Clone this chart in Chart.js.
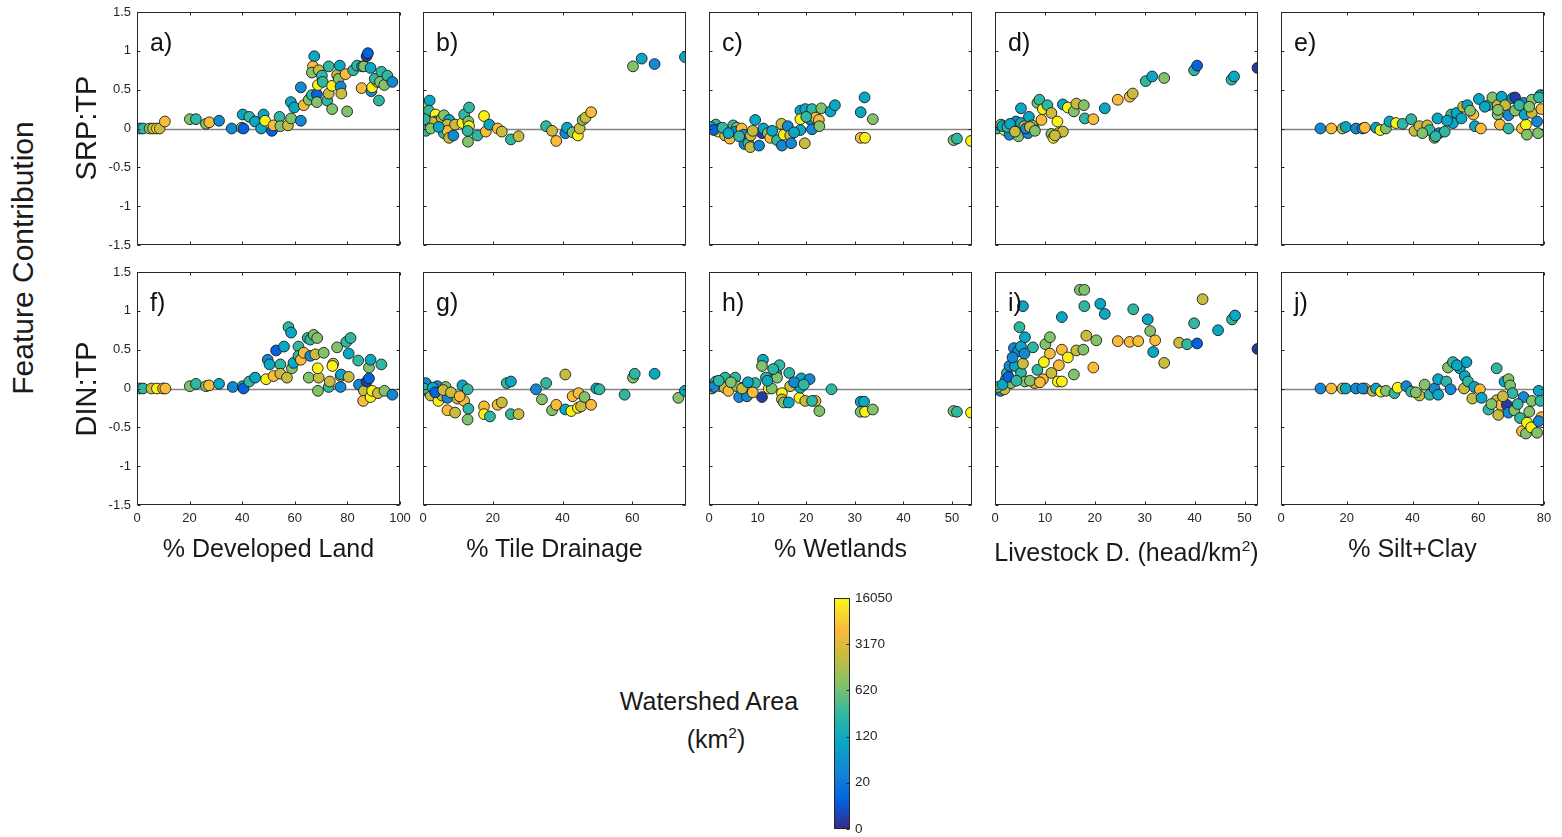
<!DOCTYPE html>
<html>
<head>
<meta charset="utf-8">
<script src="https://cdn.jsdelivr.net/npm/chart.js@4.4.1/dist/chart.umd.min.js"></script>
<style>
  body { margin: 0; background: #fff; }
  #fig { position: relative; width: 1562px; height: 837px; overflow: hidden; font-family: 'Liberation Sans', Arial, sans-serif; }
  #fig canvas { position: absolute; }
  .lbl { position: absolute; white-space: nowrap; color: #1a1a1a; line-height: 1; }
  .lbl sup { font-size: 0.62em; vertical-align: 0.6em; line-height: 0; }
</style>
</head>
<body>
<div id="fig"></div>
<script>
// watershed area (km2) per point, x = feature value, y = feature contribution
const aX = [1.0,2.3,4.8,6.1,7.6,8.6,10.6,20.1,22.4,26.2,27.5,31.2,36.0,39.8,40.5,40.2,42.7,44.9,47.2,48.1,48.7,51.3,51.9,54.2,54.5,57.4,58.6,58.5,59.8,62.3,62.3,63.4,65.3,66.5,68.4,68.4,67.4,66.9,66.5,69.1,70.3,72.9,68.8,70.6,72.3,72.9,74.2,74.2,76.1,77.1,76.7,77.4,77.7,79.3,79.9,82.2,83.7,85.6,86.3,87.3,87.8,88.8,85.4,89.1,89.4,91.4,90.4,92.0,92.9,92.4,94.0,95.2,97.1]
const aY = [0,0,0,0,0,0,0.09,0.12,0.12,0.06,0.08,0.10,0,0.01,0,0.18,0.15,0.09,0,0.18,0.10,-0.03,0.04,0.15,0.03,0.04,0.13,0.34,0.27,0.10,0.53,0.30,0.37,0.43,0.44,0.34,0.93,0.80,0.72,0.75,0.68,0.80,0.56,0.60,0.36,0.45,0.25,0.55,0.69,0.81,0.64,0.54,0.45,0.70,0.22,0.75,0.81,0.80,0.80,0.93,0.97,0.78,0.52,0.48,0.53,0.60,0.64,0.36,0.73,0.60,0.56,0.68,0.60]
const aArea = [260,260,750,2100,14000,2100,5500,750,260,750,5500,35,35,750,12,100,260,100,100,100,14000,12,5500,260,750,2100,750,100,100,35,35,5500,750,260,12,750,100,5500,750,2100,260,260,14000,260,260,2100,750,14000,2100,100,750,35,2100,5500,750,260,260,100,750,4,12,100,5500,35,14000,5500,260,260,260,750,750,260,35]

const bX = [0.8,1.9,0.3,1.7,3.6,3.6,2.7,0.8,5.4,6.0,7.5,7.0,6.0,7.0,7.5,8.7,9.2,11.3,11.8,13.2,13.0,13.2,12.8,12.9,15.6,17.5,18.0,19.0,21.4,22.6,25.2,27.4,35.3,37.0,38.2,40.8,41.3,42.9,44.4,44.9,45.8,46.6,48.2,60.2,62.7,66.4,75.1,0.5,2.2,4.5]
const bY = [0.28,0.36,0.18,0.23,0.18,0.09,0.08,-0.03,0.13,0.17,0.11,0.05,-0.06,-0.03,-0.12,-0.09,0.05,0.07,0.18,0.27,0.09,0.03,-0.03,-0.17,-0.09,0.16,-0.04,0.05,0.0,-0.04,-0.14,-0.10,0.03,-0.03,-0.16,-0.06,0.01,-0.05,-0.09,0.0,0.11,0.14,0.21,0.80,0.90,0.83,0.92,0.12,0.0,0.02]
const bArea = [5500,100,750,260,14000,100,2100,260,2100,750,100,2100,260,5500,2100,35,2100,14000,260,260,750,14000,260,750,260,14000,5500,100,5500,2100,260,2100,260,2100,5500,35,100,750,14000,2100,750,2100,5500,750,100,35,100,260,750,100]

const cX = [0.6,1.4,2.3,1.9,3.3,4.3,5.0,5.7,5.4,6.7,7.1,7.3,8.1,8.5,8.6,9.5,10.3,10.9,11.2,12.1,12.6,14.0,14.9,15.0,15.4,16.2,16.7,16.9,18.8,18.8,18.8,19.7,19.8,20.9,21.2,21.2,21.9,22.6,22.7,23.1,25.0,25.9,31.2,32.0,33.7,31.2,32.1,50.3,51.0,53.9,0.3,1.0,2.8,4.0,6.2,9.0,13.0,17.5,20.0]
const cY = [0.01,0.05,0.0,-0.04,-0.09,-0.13,0.04,0.01,-0.04,0.0,-0.08,-0.20,-0.19,-0.24,-0.09,0.11,-0.22,-0.06,0.0,-0.06,-0.12,-0.15,0.06,-0.22,-0.08,0.03,-0.09,-0.19,0.23,0.12,-0.02,-0.19,0.25,0.11,-0.01,0.25,0.14,0.11,0.03,0.26,0.22,0.30,0.21,0.40,0.12,-0.12,-0.12,-0.15,-0.13,-0.16,0.02,-0.02,0.01,-0.06,-0.10,-0.03,-0.03,-0.05,0.15]
const cArea = [750,260,35,14000,2100,5500,260,750,35,5500,35,35,260,2100,2100,100,35,4,100,750,5500,260,2100,35,14000,35,2100,35,100,14000,100,2100,100,35,35,260,5500,5500,750,750,100,100,100,100,750,5500,14000,750,260,14000,100,12,260,100,260,2100,100,100,260]

const dX = [0.5,1.2,1.9,2.9,3.6,4.2,4.7,5.2,5.2,5.9,6.8,6.6,7.8,7.4,8.5,8.9,9.3,9.6,10.5,11.3,11.3,11.7,12.5,12.7,13.6,13.6,14.6,15.8,16.3,17.8,18.0,19.7,22.0,24.6,27.0,27.6,30.2,31.5,33.9,39.9,40.5,47.4,47.9,52.6,1.5,2.5,3.0,4.0,6.2,7.0,8.0,12.0]
const dY = [0.0,0.05,-0.02,-0.08,0.0,0.09,-0.10,0.26,0.07,0.03,0.15,-0.06,0.0,0.04,0.33,0.37,0.11,0.25,0.30,0.20,-0.07,-0.12,0.09,-0.06,-0.04,0.31,0.27,0.22,0.32,0.30,0.13,0.12,0.26,0.37,0.41,0.45,0.61,0.67,0.65,0.75,0.81,0.63,0.67,0.78,0.03,0.02,0.06,-0.04,0.0,0.02,-0.03,-0.09]
const dArea = [260,750,14000,35,260,35,750,100,100,2100,100,35,260,750,750,260,5500,14000,260,2100,750,14000,14000,5500,2100,100,14000,750,2100,750,260,5500,100,5500,5500,2100,260,100,750,260,12,260,100,4,100,260,100,2100,35,2100,750,2100]

const eX = [12.0,15.3,18.7,19.7,22.8,24.8,25.5,28.9,30.2,31.9,33.0,35.0,37.0,39.6,40.6,42.1,44.5,45.2,46.7,47.6,48.1,49.8,51.8,52.3,53.4,54.9,55.4,56.7,58.5,59.0,60.2,60.8,63.1,64.3,65.9,67.1,68.2,65.9,66.6,69.2,69.2,70.4,71.2,71.2,73.8,73.3,74.5,74.1,74.8,76.3,76.3,77.9,78.2,78.9,79.2,43.0,47.0,50.5,57.5,62.0,66.0,72.5,75.5,78.5]
const eY = [0,0,0,0.02,0,0,0.01,0.01,-0.02,0,0.09,0.07,0.06,0.12,-0.03,0.03,0.04,-0.02,-0.12,0.13,-0.06,-0.04,0.18,0.07,0.20,0.13,0.28,0.30,0.18,0.03,0.38,0.0,0.30,0.40,0.30,0.41,0.30,0.18,0.05,0.17,0.0,0.39,0.23,0.40,0.33,0.0,0.05,0.18,-0.08,0.37,0.20,0.09,-0.06,0.43,0.25,-0.06,-0.10,0.10,0.23,0.28,0.24,0.30,0.28,0.40]
const eArea = [35,5500,2100,100,35,35,5500,100,14000,750,100,14000,260,260,2100,2100,2100,260,750,100,35,260,260,100,100,100,2100,100,5500,100,100,5500,260,750,2100,100,2100,750,5500,35,260,100,750,4,35,5500,14000,100,750,750,2100,35,750,100,5500,750,260,100,750,100,750,260,750,260]

const fX = [1.0,2.3,5.5,7.6,9.9,10.8,20.1,22.4,26.2,27.4,31.2,36.4,40.2,40.5,42.7,44.9,49.1,49.7,50.4,51.9,52.9,54.5,54.5,55.9,57.0,58.9,57.6,58.6,59.5,61.4,61.4,62.3,63.4,64.9,65.9,67.2,68.5,65.3,65.9,67.8,69.1,68.7,68.8,71.0,72.9,73.3,74.6,74.3,76.1,77.4,77.4,77.6,79.6,81.2,80.5,80.5,84.1,84.4,86.3,87.3,88.2,88.2,88.8,86.0,88.8,89.4,91.6,92.9,94.1,97.1]
const fY = [0,0,0,0,0,0,0.03,0.06,0.03,0.04,0.06,0.02,0.03,0,0.09,0.14,0.12,0.37,0.31,0.16,0.49,0.31,0.19,0.54,0.14,0.26,0.79,0.72,0.33,0.54,0.42,0.37,0.46,0.65,0.63,0.69,0.65,0.14,0.42,0.44,0.14,0.26,-0.03,0.46,0.02,0.09,0.32,0.29,0.53,0.02,0.16,0.18,0.60,0.65,0.45,0.15,0.36,0.05,-0.03,0.09,0.13,0.27,0.37,-0.16,-0.11,-0.03,-0.06,0.31,-0.03,-0.08]
const fArea = [260,260,2100,14000,5500,5500,750,260,750,5500,100,35,100,12,260,100,14000,35,100,5500,12,260,2100,100,2100,750,260,100,100,260,260,5500,5500,260,260,750,750,750,35,2100,2100,14000,750,750,260,2100,2100,14000,750,35,5500,100,260,260,100,2100,260,35,2100,4,12,750,100,5500,14000,14000,2100,260,750,35]

const gX = [0.8,1.2,2.2,4.1,4.4,5.4,6.5,7.0,7.0,9.2,9.9,11.3,11.8,12.8,13.0,12.8,17.5,17.5,19.2,21.4,22.6,24.0,25.2,25.2,27.4,32.4,34.1,35.3,37.0,38.2,40.8,40.8,42.5,42.9,44.6,44.4,45.3,46.3,48.2,49.7,50.6,57.8,60.2,60.7,66.4,73.2,75.1,0.3,2.8,3.5,5.8,8.0,10.5]
const gY = [0.07,-0.03,-0.09,0.03,-0.16,-0.09,0.02,-0.12,-0.28,-0.31,-0.13,0.04,-0.16,-0.01,-0.26,-0.40,-0.23,-0.33,-0.36,-0.21,-0.18,0.07,0.09,-0.33,-0.33,-0.01,-0.14,0.07,-0.28,-0.21,0.18,-0.27,-0.29,-0.10,-0.06,-0.25,-0.23,-0.11,-0.21,0.0,-0.01,-0.08,0.14,0.19,0.19,-0.12,-0.03,0.0,0.01,-0.05,-0.02,-0.05,-0.10]
const gArea = [35,260,2100,35,14000,2100,750,35,5500,2100,2100,100,5500,260,260,750,5500,14000,260,5500,2100,260,100,260,2100,35,750,260,750,5500,2100,100,14000,5500,5500,14000,2100,750,5500,100,260,260,750,260,100,750,100,260,100,12,2100,2100,5500]

const hX = [0.6,1.4,2.3,3.3,3.2,4.0,5.4,5.7,6.2,7.8,7.3,8.7,9.5,10.9,11.1,10.9,11.7,12.3,12.9,13.8,14.0,14.5,15.0,15.0,15.4,16.4,16.5,16.7,18.6,19.0,18.8,20.7,19.8,21.9,21.2,22.7,25.2,31.2,31.9,31.2,32.1,33.7,50.3,51.0,53.9,1.0,2.0,4.5,6.8,8.0,9.0,12.0,13.2,17.5,19.5]
const hY = [0,0.09,0.03,0.14,0.01,-0.03,0.14,0.03,-0.11,-0.10,0.02,0.03,0.07,-0.11,0.37,0.29,0.14,0,0,0.20,0.14,0.30,-0.06,-0.14,-0.18,-0.18,0.20,0.03,-0.12,0.13,0.01,0.12,-0.16,-0.16,-0.16,-0.29,-0.01,-0.17,-0.17,-0.30,-0.30,-0.27,-0.29,-0.30,-0.31,0.02,0.10,0.08,0.0,0.08,-0.05,0.10,0.25,0.08,0.05]
const hArea = [750,260,2100,260,2100,5500,260,750,35,35,750,5500,260,4,100,750,260,14000,750,100,750,260,14000,2100,750,100,260,2100,14000,100,100,35,2100,5500,260,750,260,100,100,750,14000,750,750,260,14000,35,260,750,2100,100,5500,100,260,35,260]

const iX = [0.2,1.1,1.9,2.2,2.4,2.9,3.2,3.8,4.0,4.6,4.9,5.2,5.2,5.6,5.6,6.0,5.9,6.0,7.6,7.9,8.5,9.6,9.8,10.1,11.0,11.0,11.3,12.6,13.4,12.8,13.4,13.4,14.6,15.8,16.3,17.7,17.0,17.9,17.9,18.3,19.7,20.3,21.1,22.0,24.6,27.0,28.7,27.7,30.6,31.1,32.1,31.7,33.9,36.9,38.5,40.5,39.9,41.6,44.7,47.5,48.1,52.6,0.5,1.5,2.7,3.5,4.3,7.0,9.0]
const iY = [-0.01,-0.03,-0.01,0.12,0.20,0.29,0.07,0.52,0.29,0.48,0.79,0.54,0.20,0.32,1.06,0.66,0.45,0.09,0.53,0.07,0.24,0.12,0.34,0.57,0.66,0.45,0.20,0.09,0.09,0.30,0.50,0.92,0.40,0.18,0.49,0.50,1.27,1.27,1.06,0.68,0.27,0.62,1.09,0.96,0.61,0.60,0.61,1.02,0.89,0.74,0.62,0.47,0.33,0.59,0.57,0.58,0.84,1.15,0.75,0.89,0.94,0.51,0.02,0.05,0.15,0.40,0.10,0.10,0.08]
const iArea = [260,35,2100,100,260,35,750,35,100,35,260,100,260,2100,100,100,35,750,260,2100,260,5500,14000,750,750,5500,2100,14000,14000,5500,5500,100,14000,750,2100,750,750,750,260,2100,5500,750,100,100,5500,5500,5500,260,100,750,5500,100,2100,2100,260,12,260,2100,100,260,100,4,750,100,12,35,260,750,5500]

const jX = [12.0,15.3,18.7,19.7,22.8,25.5,27.9,28.9,30.4,31.9,34.5,35.5,38.1,39.6,42.1,43.7,45.2,46.7,47.8,47.8,50.3,50.8,51.6,52.3,54.4,55.7,56.4,55.9,56.9,58.2,58.8,60.5,61.0,63.1,65.6,65.6,66.1,66.9,68.0,68.7,69.2,69.2,69.7,70.4,71.0,72.7,73.8,73.3,74.5,74.8,76.1,76.3,77.9,78.4,78.9,79.2,78.4,24.8,41.0,53.5,64.0,67.5,72.0,75.5]
const jY = [0,0,0,0,0,0,-0.03,0,-0.04,-0.03,-0.06,0.01,0.03,-0.04,-0.09,0.05,-0.08,0,0.12,-0.08,0.09,0.27,-0.01,0.34,0.26,0,0.34,0.16,0.09,-0.13,0.02,-0.01,-0.12,-0.27,0.26,-0.15,-0.34,-0.21,0.09,-0.21,-0.31,0.12,0.04,-0.06,-0.28,-0.38,-0.11,-0.55,-0.58,-0.44,-0.50,-0.16,-0.57,-0.03,-0.16,-0.37,-0.42,0,-0.05,0.30,-0.20,-0.10,-0.20,-0.30]
const jArea = [35,5500,2100,100,35,5500,2100,100,14000,750,260,14000,35,260,2100,750,260,35,100,100,260,750,35,260,100,2100,100,100,260,2100,100,5500,100,260,260,2100,2100,5500,100,4,35,750,750,260,750,260,35,5500,750,14000,14000,750,750,100,260,5500,35,35,750,100,750,2100,260,750]

const yTicks = [-1.5, 1.5, 0.5]
const areaTicks = [0, 20, 120, 620, 3170, 16050]
const xTitles = ['% Developed Land', '% Tile Drainage', '% Wetlands', 'Livestock D. (head/km<sup>2</sup>)', '% Silt+Clay']

// parula-like colour ramp
const ramp = [
  [0, '#352a87'], [0.125, '#0363e1'], [0.25, '#1485d4'], [0.375, '#06a7c6'],
  [0.5, '#32b8a0'], [0.625, '#82c26a'], [0.75, '#c9bb3e'], [0.86, '#f9b93c'],
  [0.95, '#f6e02a'], [1, '#f9fb0e']
]

const hexRgb = h => [1, 3, 5].map(i => parseInt(h.slice(i, i + 2), 16))

function rampColor(t) {
  t = Math.min(1, Math.max(0, t))
  for (let i = 1; i < ramp.length; i++) {
    if (t <= ramp[i][0]) {
      const [t0, c0] = ramp[i - 1]
      const [t1, c1] = ramp[i]
      const f = (t - t0) / (t1 - t0)
      const a = hexRgb(c0), b = hexRgb(c1)
      return `rgb(${a.map((v, k) => Math.round(v + (b[k] - v) * f)).join(',')})`
    }
  }
  return ramp[ramp.length - 1][1]
}

// colour bar ticks are evenly spaced, log between them
function areaToT(a) {
  for (let i = 1; i < areaTicks.length; i++) {
    if (a <= areaTicks[i]) {
      const lo = areaTicks[i - 1], hi = areaTicks[i]
      const f = lo === 0 ? a / hi : Math.log(a / lo) / Math.log(hi / lo)
      return (i - 1 + f) / (areaTicks.length - 1)
    }
  }
  return 1
}

const FONT = "'Liberation Sans', Arial, sans-serif"
const INK = '#262626'
Chart.defaults.font.family = FONT

const PAD_L = 60, PAD_R = 20, PAD_T = 20, PAD_B = 40
const PANEL_W = 263, PANEL_H = 233
const colLeft = [137, 423, 709, 995, 1281]
const rowTop = [12, 272]
const fig = document.getElementById('fig')

const panels = [
  { letter: 'a)', col: 0, row: 0, x: aX, y: aY, area: aArea, xMax: 100, xStep: 20 },
  { letter: 'b)', col: 1, row: 0, x: bX, y: bY, area: bArea, xMax: 75.4, xStep: 20 },
  { letter: 'c)', col: 2, row: 0, x: cX, y: cY, area: cArea, xMax: 54.1, xStep: 10 },
  { letter: 'd)', col: 3, row: 0, x: dX, y: dY, area: dArea, xMax: 52.7, xStep: 10 },
  { letter: 'e)', col: 4, row: 0, x: eX, y: eY, area: eArea, xMax: 80, xStep: 20 },
  { letter: 'f)', col: 0, row: 1, x: fX, y: fY, area: fArea, xMax: 100, xStep: 20 },
  { letter: 'g)', col: 1, row: 1, x: gX, y: gY, area: gArea, xMax: 75.4, xStep: 20 },
  { letter: 'h)', col: 2, row: 1, x: hX, y: hY, area: hArea, xMax: 54.1, xStep: 10 },
  { letter: 'i)', col: 3, row: 1, x: iX, y: iY, area: iArea, xMax: 52.7, xStep: 10 },
  { letter: 'j)', col: 4, row: 1, x: jX, y: jY, area: jArea, xMax: 80, xStep: 20 }
]

// zero line under the points, box + inward ticks + panel letter on top
const framePlugin = {
  id: 'frame',
  beforeDatasetsDraw(chart) {
    const { ctx, chartArea: a, scales: { y } } = chart
    const y0 = Math.round(y.getPixelForValue(0)) + 0.5
    ctx.save()
    ctx.strokeStyle = '#858585'
    ctx.lineWidth = 1.4
    ctx.beginPath()
    ctx.moveTo(a.left, y0)
    ctx.lineTo(a.right, y0)
    ctx.stroke()
    ctx.restore()
  },
  afterDraw(chart, args, opts) {
    const { ctx, chartArea: a, scales: { x, y } } = chart
    const l = Math.round(a.left) + 0.5, r = Math.round(a.right) - 0.5
    const t = Math.round(a.top) + 0.5, b = Math.round(a.bottom) - 0.5
    ctx.save()
    ctx.strokeStyle = INK
    ctx.lineWidth = 1
    ctx.strokeRect(l, t, r - l, b - t)
    ctx.beginPath()
    x.ticks.forEach(tk => {
      const px = Math.round(x.getPixelForValue(tk.value)) + 0.5
      ctx.moveTo(px, b); ctx.lineTo(px, b - 3)
      ctx.moveTo(px, t); ctx.lineTo(px, t + 3)
    })
    y.ticks.forEach(tk => {
      const py = Math.round(y.getPixelForValue(tk.value)) + 0.5
      ctx.moveTo(l, py); ctx.lineTo(l + 3, py)
      ctx.moveTo(r, py); ctx.lineTo(r - 3, py)
    })
    ctx.stroke()
    ctx.fillStyle = '#111'
    ctx.font = `25px ${FONT}`
    ctx.textBaseline = 'alphabetic'
    ctx.fillText(opts.letter, a.left + 13, a.top + 39)
    ctx.restore()
  }
}

function makePanel(p) {
  const canvas = document.createElement('canvas')
  canvas.width = PAD_L + PANEL_W + PAD_R
  canvas.height = PAD_T + PANEL_H + PAD_B
  canvas.style.left = (colLeft[p.col] - PAD_L) + 'px'
  canvas.style.top = (rowTop[p.row] - PAD_T) + 'px'
  fig.appendChild(canvas)

  const tickFont = { size: 13, family: FONT }
  new Chart(canvas, {
    type: 'scatter',
    data: {
      datasets: [{
        data: p.x.map((v, i) => ({ x: v, y: p.y[i] })),
        backgroundColor: p.area.map(a => rampColor(areaToT(a))),
        borderColor: '#1c1c1c',
        borderWidth: 0.9,
        pointRadius: 5.4,
        pointHoverRadius: 5.4,
        clip: 0
      }]
    },
    options: {
      responsive: false,
      animation: false,
      events: [],
      layout: { padding: { top: PAD_T, right: PAD_R, left: 0, bottom: 0 } },
      plugins: {
        legend: { display: false },
        tooltip: { enabled: false },
        frame: { letter: p.letter }
      },
      scales: {
        x: {
          type: 'linear',
          min: 0,
          max: p.xMax,
          afterFit: s => { s.height = PAD_B },
          grid: { display: false, drawTicks: false },
          border: { display: false },
          ticks: {
            display: p.row === 1,
            stepSize: p.xStep,
            includeBounds: false,
            autoSkip: false,
            maxRotation: 0,
            padding: 6,
            color: INK,
            font: tickFont
          }
        },
        y: {
          type: 'linear',
          min: yTicks[0],
          max: yTicks[1],
          afterFit: s => { s.width = PAD_L },
          grid: { display: false, drawTicks: false },
          border: { display: false },
          ticks: {
            display: p.col === 0,
            stepSize: yTicks[2],
            autoSkip: false,
            padding: 6,
            color: INK,
            font: tickFont,
            callback: v => String(v)
          }
        }
      }
    },
    plugins: [framePlugin]
  })
}

panels.forEach(makePanel)

// colour bar for watershed area
const cbarPlugin = {
  id: 'cbar',
  beforeDatasetsDraw(chart) {
    const { ctx, chartArea: a } = chart
    const g = ctx.createLinearGradient(0, a.bottom, 0, a.top)
    ramp.forEach(([t, c]) => g.addColorStop(t, c))
    ctx.save()
    ctx.fillStyle = g
    ctx.fillRect(a.left, a.top, a.right - a.left, a.bottom - a.top)
    ctx.restore()
  },
  afterDraw(chart) {
    const { ctx, chartArea: a, scales: { y } } = chart
    const l = Math.round(a.left) + 0.5, r = Math.round(a.right) - 0.5
    ctx.save()
    ctx.strokeStyle = INK
    ctx.lineWidth = 1
    ctx.strokeRect(l, Math.round(a.top) + 0.5, r - l, Math.round(a.bottom) - Math.round(a.top) - 1)
    ctx.beginPath()
    y.ticks.forEach(tk => {
      const py = Math.round(y.getPixelForValue(tk.value)) + 0.5
      ctx.moveTo(r, py); ctx.lineTo(r - 3, py)
    })
    ctx.stroke()
    ctx.restore()
  }
}

const cbar = document.createElement('canvas')
cbar.width = 10 + 16 + 60
cbar.height = 12 + 233 + 12
cbar.style.left = (834 - 10) + 'px'
cbar.style.top = (597 - 12) + 'px'
fig.appendChild(cbar)
new Chart(cbar, {
  type: 'scatter',
  data: { datasets: [] },
  options: {
    responsive: false,
    animation: false,
    events: [],
    layout: { padding: { left: 10, top: 12, bottom: 12, right: 0 } },
    plugins: { legend: { display: false }, tooltip: { enabled: false } },
    scales: {
      x: { display: false, min: 0, max: 1 },
      y: {
        position: 'right',
        min: 0,
        max: areaTicks.length - 1,
        afterFit: s => { s.width = 60 },
        grid: { display: false, drawTicks: false },
        border: { display: false },
        ticks: {
          stepSize: 1,
          padding: 5,
          color: INK,
          font: { size: 13.5, family: FONT },
          callback: v => areaTicks[v]
        }
      }
    }
  },
  plugins: [cbarPlugin]
})

// text labels
function addText(html, cx, cy, size, rotate) {
  const d = document.createElement('div')
  d.className = 'lbl'
  d.innerHTML = html
  d.style.left = cx + 'px'
  d.style.top = cy + 'px'
  d.style.fontSize = size + 'px'
  d.style.transform = 'translate(-50%, -50%)' + (rotate ? ' rotate(-90deg)' : '')
  fig.appendChild(d)
}

xTitles.forEach((t, i) => {
  addText(t, colLeft[i] + PANEL_W / 2, i === 3 ? 552 : 548, 25)
})
addText('Feature Contribution', 23, 258, 30, true)
addText('SRP:TP', 86, 128, 29, true)
addText('DIN:TP', 86, 389, 29, true)
addText('Watershed Area', 709, 701, 25)
addText('(km<sup>2</sup>)', 716, 739, 25)
</script>
</body>
</html>
